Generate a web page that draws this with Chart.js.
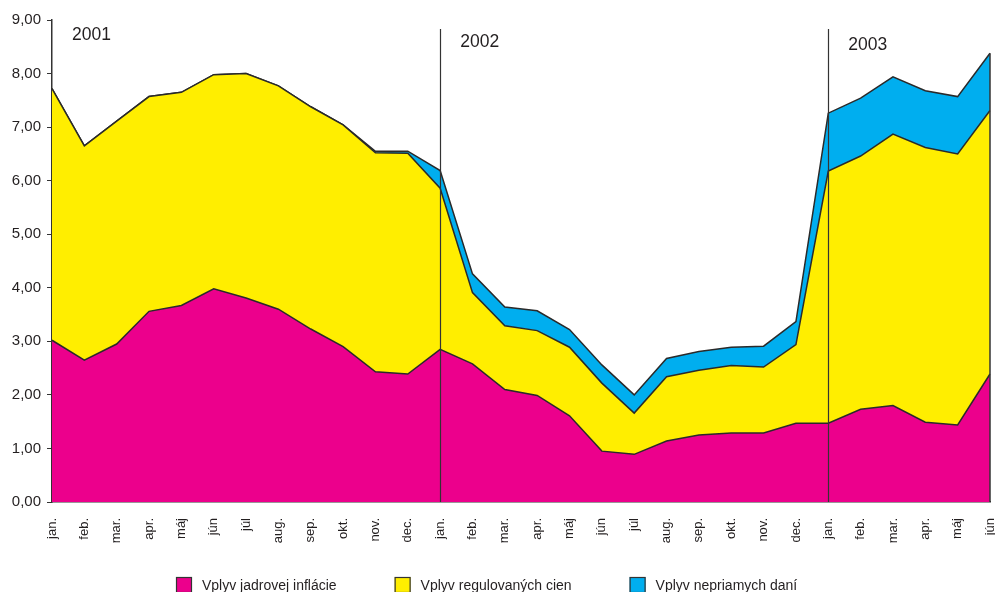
<!DOCTYPE html>
<html>
<head>
<meta charset="utf-8">
<script src="https://cdn.jsdelivr.net/npm/chart.js@4.4.1/dist/chart.umd.min.js"></script>
<style>
  html, body { margin: 0; padding: 0; background: #fff; }
  #wrap { width: 995px; height: 592px; position: relative; }
</style>
</head>
<body>
<div id="wrap"><canvas id="myChart"></canvas></div>
<script>
// mesiace jan. 2001 - jún 2003
const months = [
  'jan.', 'feb.', 'mar.', 'apr.', 'máj', 'jún', 'júl', 'aug.', 'sep.', 'okt.', 'nov.', 'dec.',
  'jan.', 'feb.', 'mar.', 'apr.', 'máj', 'jún', 'júl', 'aug.', 'sep.', 'okt.', 'nov.', 'dec.',
  'jan.', 'feb.', 'mar.', 'apr.', 'máj', 'jún'
];

const years = ['2001', '2002', '2003'];
const yearStart = [0, 12, 24];

const core = [
  3.02, 2.65, 2.95, 3.56, 3.67, 3.98, 3.81, 3.60, 3.23, 2.90, 2.43, 2.39,
  2.85, 2.58, 2.10, 1.99, 1.61, 0.95, 0.89, 1.14, 1.25, 1.29, 1.29, 1.47,
  1.47, 1.73, 1.80, 1.49, 1.44, 2.39
];

const regulated = [
  4.70, 4.00, 4.16, 4.01, 3.98, 4.00, 4.19, 4.17, 4.15, 4.14, 4.09, 4.12,
  3.01, 1.33, 1.19, 1.21, 1.28, 1.27, 0.77, 1.20, 1.21, 1.26, 1.23, 1.47,
  4.71, 4.73, 5.07, 5.13, 5.06, 4.92
];

const indirect = [
  0, 0, 0, 0, 0, 0, 0, 0, 0, 0, 0.03, 0.04,
  0.33, 0.35, 0.35, 0.37, 0.33, 0.34, 0.34, 0.34, 0.35, 0.34, 0.39, 0.43,
  1.08, 1.08, 1.07, 1.06, 1.07, 1.07
];

const seriesNames = ['Vplyv jadrovej inflácie', 'Vplyv regulovaných cien', 'Vplyv nepriamych daní'];

const FONT = "'Liberation Sans', Arial, Helvetica, sans-serif";
const INK = '#231f20';

// zvislé čiary a roky
const yearPlugin = {
  id: 'yearPlugin',
  afterDatasetsDraw(chart) {
    const ctx = chart.ctx;
    const x = chart.scales.x;
    const y = chart.scales.y;
    const yOff = [8.72, 8.59, 8.53];
    ctx.save();
    ctx.strokeStyle = '#333';
    ctx.lineWidth = 1.2;
    for (let i = 0; i < yearStart.length; i++) {
      const px = x.getPixelForValue(yearStart[i]);
      if (i > 0) {
        ctx.beginPath();
        ctx.moveTo(Math.round(px) + 0.5, y.getPixelForValue(8.83));
        ctx.lineTo(Math.round(px) + 0.5, y.getPixelForValue(0));
        ctx.stroke();
      }
      ctx.fillStyle = INK;
      ctx.font = '17.5px ' + FONT;
      ctx.textAlign = 'left';
      ctx.textBaseline = 'middle';
      const step = x.getPixelForValue(1) - x.getPixelForValue(0);
      ctx.fillText(years[i], px + step * 0.62, y.getPixelForValue(yOff[i]));
    }

    // pravý okraj plochy
    const last = months.length - 1;
    const total = core[last] + regulated[last] + indirect[last];
    const rx = x.getPixelForValue(last);
    ctx.lineWidth = 1.5;
    ctx.beginPath();
    ctx.moveTo(rx, y.getPixelForValue(total));
    ctx.lineTo(rx, y.getPixelForValue(0));
    ctx.stroke();
    ctx.restore();
  }
};

// legenda dole
const legendPlugin = {
  id: 'legendPlugin',
  afterDraw(chart) {
    const ctx = chart.ctx;
    ctx.save();
    ctx.font = '14px ' + FONT;
    ctx.textBaseline = 'middle';
    ctx.textAlign = 'left';
    let lx = 176;
    const top = 577;
    chart.data.datasets.forEach((ds) => {
      ctx.fillStyle = ds.backgroundColor;
      ctx.fillRect(lx, top, 16, 16);
      ctx.strokeStyle = '#333';
      ctx.lineWidth = 1.2;
      ctx.strokeRect(lx + 0.5, top + 0.5, 15, 15);
      ctx.fillStyle = INK;
      ctx.fillText(ds.label, lx + 26, top + 9);
      lx += 26 + ctx.measureText(ds.label).width + 58;
    });
    ctx.restore();
  }
};

const ctx = document.getElementById('myChart');

new Chart(ctx, {
  type: 'line',
  data: {
    labels: months,
    datasets: [
      {
        label: seriesNames[0],
        data: core,
        backgroundColor: '#ec008c',
        borderColor: '#2a2a2a',
        borderWidth: 1.5,
        fill: 'origin',
        pointRadius: 0,
        tension: 0
      },
      {
        label: seriesNames[1],
        data: regulated,
        backgroundColor: '#ffee00',
        borderColor: '#2a2a2a',
        borderWidth: 1.5,
        fill: '-1',
        pointRadius: 0,
        tension: 0
      },
      {
        label: seriesNames[2],
        data: indirect,
        backgroundColor: '#00aeef',
        borderColor: '#2a2a2a',
        borderWidth: 1.5,
        fill: '-1',
        pointRadius: 0,
        tension: 0
      }
    ]
  },
  options: {
    responsive: true,
    maintainAspectRatio: false,
    animation: false,
    layout: { padding: { top: 20, right: 5, left: 0, bottom: 0 } },
    plugins: {
      tooltip: { enabled: false },
      legend: { display: false }
    },
    scales: {
      x: {
        stacked: true,
        grid: { display: false },
        border: { display: true, color: '#333', width: 1.5 },
        ticks: {
          color: INK,
          font: { family: FONT, size: 13 },
          maxRotation: 90,
          minRotation: 90,
          autoSkip: false,
          padding: 8
        },
        afterFit(scale) {
          scale.height = 90;
          scale.paddingRight = 0;
          scale.paddingLeft = 0;
        }
      },
      y: {
        stacked: true,
        min: 0,
        max: 9,
        grid: {
          display: true,
          drawOnChartArea: false,
          tickLength: 5,
          color: '#333'
        },
        border: { display: true, color: '#333', width: 1.5 },
        ticks: {
          stepSize: 1,
          color: INK,
          font: { family: FONT, size: 15 },
          padding: 6,
          callback: (v) => v.toFixed(2).replace('.', ',')
        },
        afterFit(scale) { scale.width = 52; }
      }
    }
  },
  plugins: [yearPlugin, legendPlugin]
});
</script>
</body>
</html>
